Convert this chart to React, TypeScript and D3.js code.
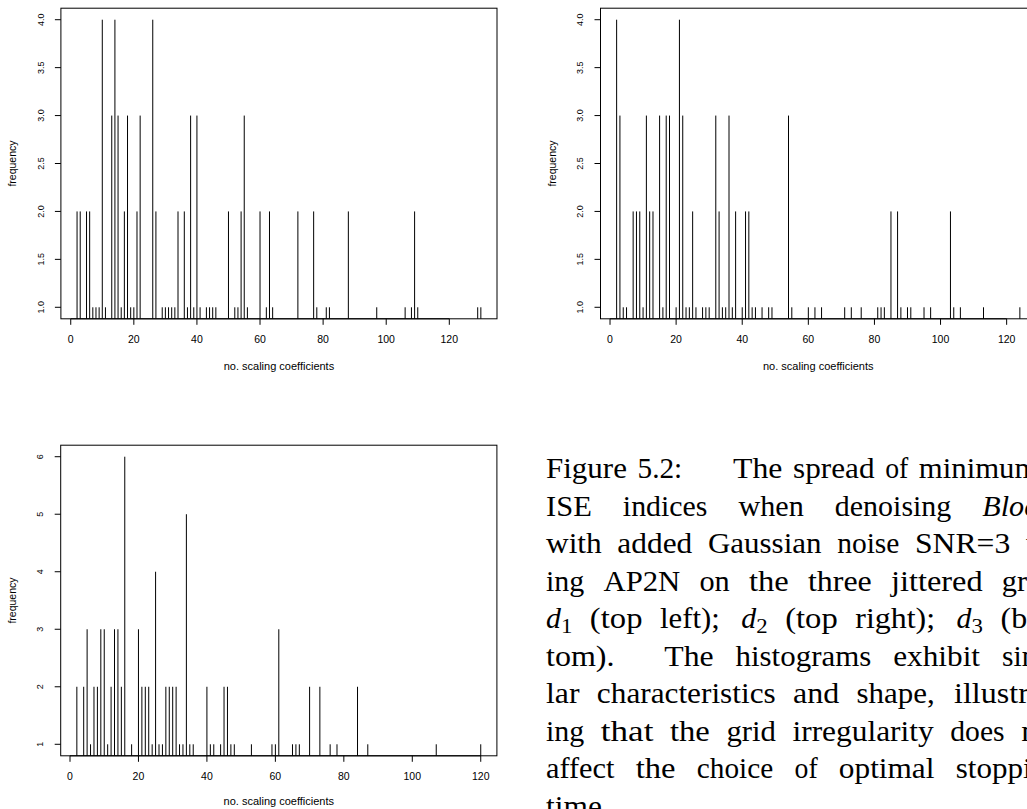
import React, { useEffect } from "react";
import * as d3 from "d3";

// ---------- data ----------
// Panel d1 (top left): index -> frequency
const d1Index = [2, 3, 5, 6, 7, 8, 9, 10, 11, 13, 14, 15, 16, 17, 18, 19, 20, 21, 22, 26, 27, 29, 30, 31, 32, 33, 34, 36, 37, 38, 39, 40, 41, 43, 44, 45, 46, 50, 52, 53, 54, 55, 56, 60, 62, 63, 64, 72, 77, 78, 81, 82, 88, 97, 106, 108, 109, 110, 129, 130];
const d1Freq = [2, 2, 2, 2, 1, 1, 1, 4, 1, 3, 4, 3, 1, 2, 3, 1, 1, 2, 3, 4, 2, 1, 1, 1, 1, 1, 2, 2, 1, 3, 1, 3, 1, 1, 1, 1, 1, 2, 1, 1, 2, 3, 1, 2, 1, 2, 1, 2, 2, 1, 1, 1, 2, 1, 1, 1, 2, 1, 1, 1];

// Panel d2 (top right)
const d2Index = [2, 3, 4, 5, 7, 8, 9, 10, 11, 12, 13, 15, 16, 17, 18, 20, 21, 22, 23, 24, 25, 26, 28, 29, 30, 32, 33, 34, 35, 36, 37, 38, 40, 41, 42, 43, 44, 46, 48, 49, 54, 55, 60, 62, 64, 71, 73, 76, 81, 82, 83, 85, 87, 88, 90, 91, 95, 97, 103, 104, 106, 113, 124];
const d2Freq = [4, 3, 1, 1, 2, 2, 2, 1, 3, 2, 2, 3, 1, 3, 3, 1, 4, 3, 1, 1, 2, 1, 1, 1, 1, 3, 2, 1, 1, 3, 1, 2, 1, 2, 2, 1, 1, 1, 1, 1, 3, 1, 1, 1, 1, 1, 1, 1, 1, 1, 1, 2, 2, 1, 1, 1, 1, 1, 2, 1, 1, 1, 1];

// Panel d3 (bottom)
const d3Index = [2, 4, 5, 6, 7, 8, 9, 10, 11, 12, 13, 14, 15, 16, 18, 20, 21, 22, 23, 24, 25, 26, 27, 28, 29, 30, 31, 32, 33, 34, 35, 36, 40, 41, 42, 44, 45, 46, 47, 48, 53, 59, 60, 61, 65, 66, 67, 70, 73, 76, 78, 84, 87, 107, 120];
const d3Freq = [2, 2, 3, 1, 2, 2, 3, 3, 1, 2, 3, 3, 2, 6, 1, 3, 2, 2, 2, 1, 4, 1, 1, 2, 2, 2, 2, 1, 1, 5, 1, 1, 2, 1, 1, 1, 2, 2, 1, 1, 1, 1, 1, 3, 1, 1, 1, 2, 2, 1, 1, 2, 1, 1, 1];

const xTicks = [0, 20, 40, 60, 80, 100, 120];
const yTicksTop = [1.0, 1.5, 2.0, 2.5, 3.0, 3.5, 4.0];
const yTicksBottom = [1, 2, 3, 4, 5, 6];
const xTitle = "no. scaling coefficients";
const yTitle = "frequency";

// caption (Computer Modern look-alike), justified lines
const captionLines: string[][] = [
  ["Figure", "5.2:", "The", "spread", "of", "minimum"],
  ["ISE", "indices", "when", "denoising", "*Blocks*"],
  ["with", "added", "Gaussian", "noise", "SNR=3", "us-"],
  ["ing", "AP2N", "on", "the", "three", "jittered", "grids"],
  ["$d_1$", "(top", "left);", "$d_2$", "(top", "right);", "$d_3$", "(bot-"],
  ["tom).", "The", "histograms", "exhibit", "simi-"],
  ["lar", "characteristics", "and", "shape,", "illustrat-"],
  ["ing", "that", "the", "grid", "irregularity", "does", "not"],
  ["affect", "the", "choice", "of", "optimal", "stopping"],
  ["time."],
];

// cmr10 / cmti10 advance widths (em)
const CM: Record<string, number> = {
  a: 0.5, b: 0.556, c: 0.444, d: 0.556, e: 0.444, f: 0.306, g: 0.5, h: 0.556, i: 0.278, j: 0.306,
  k: 0.528, l: 0.278, m: 0.833, n: 0.556, o: 0.5, p: 0.556, q: 0.528, r: 0.392, s: 0.394, t: 0.389,
  u: 0.556, v: 0.528, w: 0.722, x: 0.528, y: 0.528, z: 0.444,
  A: 0.75, B: 0.708, C: 0.722, D: 0.764, E: 0.681, F: 0.653, G: 0.785, H: 0.75, I: 0.361, N: 0.75,
  P: 0.681, R: 0.736, S: 0.556, T: 0.722,
  "0": 0.5, "1": 0.5, "2": 0.5, "3": 0.5, "4": 0.5, "5": 0.5, "6": 0.5, "7": 0.5, "8": 0.5, "9": 0.5,
  ".": 0.278, ",": 0.278, ":": 0.278, ";": 0.278, "(": 0.389, ")": 0.389, "-": 0.333, "=": 0.778,
};
const CMI: Record<string, number> = { B: 0.703, l: 0.256, o: 0.511, c: 0.46, k: 0.46, s: 0.409 };

const EM = 28.67;
const CAP_LEFT = 546;
const CAP_WIDTH = 18.02 * EM;
const CAP_BASE0 = 478.3;
const CAP_LEAD = 37.5;

function wordWidth(w: string): number {
  if (w.startsWith("$d_")) return 0.52 + 0.398;
  if (w.startsWith("*")) {
    return w.slice(1, -1).split("").reduce((s, c) => s + (CMI[c] ?? 0.5), 0);
  }
  return w.split("").reduce((s, c) => s + (CM[c] ?? 0.5), 0);
}
function glue(prev: string): [number, number] {
  const last = prev[prev.length - 1];
  if (last === ".") return [0.444, 0.5];
  if (last === ":") return [0.444, 0.333];
  if (last === ";") return [0.333, 0.25];
  if (last === ",") return [0.333, 0.209];
  return [0.333, 0.167];
}

type Box = { left: number; right: number; top: number; bottom: number };

function Panel({ xs, ns, box, yTicks, yFmt, titleDy }: { xs: number[]; ns: number[]; box: Box; yTicks: number[]; yFmt: (v: number) => string; titleDy: number }) {
  const [xmin, xmax] = d3.extent(xs) as [number, number];
  const dx = (xmax - xmin) * 0.04;
  const x = d3.scaleLinear().domain([xmin - dx, xmax + dx]).range([box.left, box.right]);
  const [ymin, ymax] = d3.extent(ns) as [number, number];
  const dy = (ymax - ymin) * 0.04;
  const y = d3.scaleLinear().domain([ymin - dy, ymax + dy]).range([box.bottom, box.top]);
  const font = "'Liberation Sans', Arial, Helvetica, sans-serif";
  return (
    <g>
      {xs.map((v, i) => (
        <line key={"b" + i} x1={x(v)} x2={x(v)} y1={box.bottom} y2={y(ns[i])} stroke="#000" strokeWidth={1} />
      ))}
      <rect x={box.left} y={box.top} width={box.right - box.left} height={box.bottom - box.top} fill="none" stroke="#000" strokeWidth={1} />
      {/* x axis */}
      <line x1={x(xTicks[0])} x2={x(xTicks[xTicks.length - 1])} y1={box.bottom} y2={box.bottom} stroke="#000" strokeWidth={1} />
      {xTicks.map((t) => (
        <g key={"xt" + t}>
          <line x1={x(t)} x2={x(t)} y1={box.bottom} y2={box.bottom + 6} stroke="#000" strokeWidth={1} />
          <text x={x(t)} y={box.bottom + 24.5} fontSize={10.5} fontFamily={font} textAnchor="middle" fill="#000">{t}</text>
        </g>
      ))}
      <text x={(box.left + box.right) / 2} y={box.bottom + titleDy} fontSize={11} fontFamily={font} textAnchor="middle" fill="#000">{xTitle}</text>
      {/* y axis */}
      {yTicks.map((t) => (
        <g key={"yt" + t}>
          <line x1={box.left - 6} x2={box.left} y1={y(t)} y2={y(t)} stroke="#000" strokeWidth={1} />
          <text transform={`translate(${box.left - 17.3},${y(t)}) rotate(-90)`} fontSize={9} fontFamily={font} textAnchor="middle" fill="#000">{yFmt(t)}</text>
        </g>
      ))}
      <text transform={`translate(${box.left - 44.9},${(box.top + box.bottom) / 2}) rotate(-90)`} fontSize={10.5} fontFamily={font} textAnchor="middle" fill="#000">{yTitle}</text>
    </g>
  );
}

function Caption() {
  const serif = "'Liberation Serif', 'Times New Roman', serif";
  const out: React.ReactNode[] = [];
  captionLines.forEach((words, li) => {
    const base = CAP_BASE0 + li * CAP_LEAD;
    const widths = words.map(wordWidth);
    const glues = words.slice(0, -1).map((w, i) => {
      const g = glue(w);
      if (li === 0 && i === 1) return [g[0] + 1.26, g[1]] as [number, number];
      return g;
    });
    const natural = widths.reduce((a, b) => a + b, 0) + glues.reduce((a, g) => a + g[0], 0);
    const stretch = glues.reduce((a, g) => a + g[1], 0);
    const isLast = li === captionLines.length - 1;
    let r = isLast || stretch === 0 ? 0 : (CAP_WIDTH / EM - natural) / stretch;
    if (li === 0) r = 0.22; // label line set with fixed spacing
    let cx = CAP_LEFT;
    words.forEach((w, wi) => {
      const wpx = widths[wi] * EM;
      if (w.startsWith("$d_")) {
        const sub = w[3];
        out.push(
          <g key={`${li}-${wi}`}>
            <text x={cx} y={base} fontSize={29} fontFamily={serif} fontStyle="italic" textLength={0.52 * EM} lengthAdjust="spacingAndGlyphs">d</text>
            <text x={cx + 0.52 * EM} y={base + 4.3} fontSize={20} fontFamily={serif} textLength={0.398 * EM} lengthAdjust="spacingAndGlyphs">{sub}</text>
          </g>
        );
      } else if (w.startsWith("*")) {
        out.push(
          <text key={`${li}-${wi}`} x={cx} y={base} fontSize={29} fontFamily={serif} fontStyle="italic" textLength={wpx} lengthAdjust="spacingAndGlyphs">{w.slice(1, -1)}</text>
        );
      } else {
        out.push(
          <text key={`${li}-${wi}`} x={cx} y={base} fontSize={29} fontFamily={serif} textLength={wpx} lengthAdjust="spacingAndGlyphs">{w}</text>
        );
      }
      cx += wpx;
      if (wi < glues.length) cx += (glues[wi][0] + r * glues[wi][1]) * EM;
    });
  });
  return <g fill="#000">{out}</g>;
}

export default function App() {
  useEffect(() => {
    document.body.style.margin = "0";
    document.body.style.overflow = "hidden";
  }, []);
  const fmt1 = (v: number) => v.toFixed(1);
  const fmt0 = (v: number) => String(v);
  return (
    <svg width={1027} height={809} style={{ position: "absolute", left: 0, top: 0, background: "#fff" }}>
      <rect x={0} y={0} width={1027} height={809} fill="#fff" />
      <Panel xs={d1Index} ns={d1Freq} box={{ left: 60.9, right: 497, top: 8.2, bottom: 318.8 }} yTicks={yTicksTop} yFmt={fmt1} titleDy={51.5} />
      <Panel xs={d2Index} ns={d2Freq} box={{ left: 600.5, right: 1036, top: 8.2, bottom: 318.8 }} yTicks={yTicksTop} yFmt={fmt1} titleDy={51.5} />
      <Panel xs={d3Index} ns={d3Freq} box={{ left: 60.7, right: 496.9, top: 445.2, bottom: 755.8 }} yTicks={yTicksBottom} yFmt={fmt0} titleDy={48.7} />
      <Caption />
    </svg>
  );
}
